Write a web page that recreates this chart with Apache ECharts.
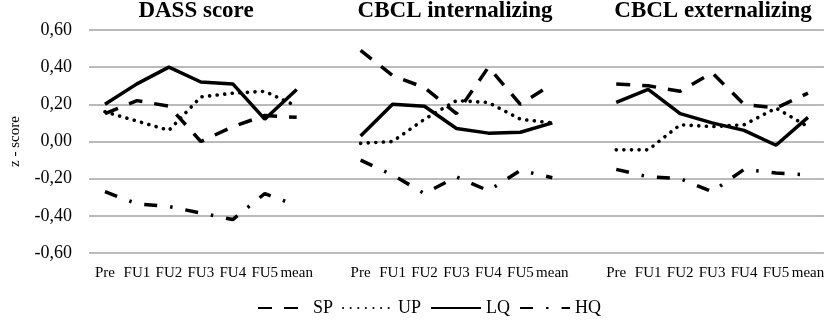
<!DOCTYPE html>
<html>
<head>
<meta charset="utf-8">
<script src="https://cdn.jsdelivr.net/npm/echarts@6/dist/echarts.min.js"></script>
<style>
  html, body { margin: 0; padding: 0; background: #fff; }
  #main { width: 827px; height: 323px; }
</style>
</head>
<body>
<div id="main"></div>
<script>
// time points of each panel
var timePoints = ['Pre', 'FU1', 'FU2', 'FU3', 'FU4', 'FU5', 'mean'];
var panelTitles = ['DASS score', 'CBCL internalizing', 'CBCL externalizing'];
var groupNames = ['SP', 'UP', 'LQ', 'HQ'];
var yTicks = [-0.6, -0.4, -0.2, 0, 0.2, 0.4, 0.6];

// DASS score
var spDass = [0.15, 0.22, 0.19, 0.00, 0.08, 0.14, 0.13];
var upDass = [0.16, 0.11, 0.06, 0.24, 0.26, 0.27, 0.19];
var lqDass = [0.20, 0.31, 0.40, 0.32, 0.31, 0.12, 0.28];
var hqDass = [-0.27, -0.335, -0.35, -0.385, -0.42, -0.28, -0.345];

// CBCL internalizing
var spInt = [0.49, 0.355, 0.29, 0.15, 0.40, 0.20, 0.31];
var upInt = [-0.01, 0.00, 0.12, 0.22, 0.21, 0.12, 0.10];
var lqInt = [0.03, 0.20, 0.19, 0.07, 0.045, 0.05, 0.10];
var hqInt = [-0.10, -0.18, -0.28, -0.19, -0.265, -0.155, -0.195];

// CBCL externalizing
var spExt = [0.31, 0.30, 0.27, 0.37, 0.20, 0.18, 0.26];
var upExt = [-0.045, -0.045, 0.09, 0.08, 0.09, 0.18, 0.08];
var lqExt = [0.21, 0.28, 0.15, 0.10, 0.06, -0.02, 0.13];
var hqExt = [-0.15, -0.19, -0.20, -0.27, -0.15, -0.17, -0.18];

// one axis, an empty slot between panels (like the excel sheet)
function joinPanels(a, b, c) {
  return a.concat([null], b, [null], c);
}
var categories = joinPanels(timePoints, timePoints, timePoints).map(function (v) { return v === null ? '' : v; });

var seriesData = {
  SP: joinPanels(spDass, spInt, spExt),
  UP: joinPanels(upDass, upInt, upExt),
  LQ: joinPanels(lqDass, lqInt, lqExt),
  HQ: joinPanels(hqDass, hqInt, hqExt)
};

var lineStyles = {
  SP: { type: [14, 12], width: 3.5, cap: 'butt' },
  UP: { type: [0.1, 7.5], width: 3.6, cap: 'round' },
  LQ: { type: 'solid', width: 3.5, cap: 'butt' },
  HQ: { type: [13, 13, 2.5, 13], width: 3.5, cap: 'butt' }
};

var serif = '"Liberation Serif", "Times New Roman", serif';
var titleX = [196, 455, 713];

var option = {
  animation: false,
  backgroundColor: '#fff',
  title: panelTitles.map(function (t, i) {
    return {
      text: t,
      left: titleX[i],
      top: 0,
      padding: 0,
      textAlign: 'center',
      textStyle: { fontFamily: serif, fontSize: 23, fontWeight: 'bold', color: '#000' }
    };
  }),
  legend: {
    data: groupNames,
    left: 252,
    bottom: 1,
    itemWidth: 50,
    itemHeight: 10,
    itemGap: 9,
    itemStyle: { opacity: 0 },
    textStyle: { fontFamily: serif, fontSize: 18, color: '#000' }
  },
  grid: { left: 83, right: 0, top: 30, bottom: 70 },
  xAxis: {
    type: 'category',
    data: categories,
    boundaryGap: true,
    axisLine: { show: false },
    axisTick: { show: false },
    axisLabel: { interval: 0, margin: 13, fontFamily: serif, fontSize: 15, color: '#000' }
  },
  yAxis: {
    type: 'value',
    min: yTicks[0],
    max: yTicks[yTicks.length - 1],
    interval: 0.2,
    name: 'z - score',
    nameLocation: 'middle',
    nameGap: 66,
    nameTextStyle: { fontFamily: serif, fontSize: 15, color: '#000' },
    axisLine: { show: false },
    axisTick: { show: false },
    axisLabel: {
      margin: 17,
      fontFamily: serif,
      fontSize: 18,
      color: '#000',
      formatter: function (v) { return v.toFixed(2).replace('.', ','); }
    },
    splitLine: { lineStyle: { color: '#a3a3a3', width: 1.5 } }
  },
  series: groupNames.map(function (g) {
    return {
      name: g,
      type: 'line',
      data: seriesData[g],
      connectNulls: false,
      symbol: 'none',
      color: '#000',
      lineStyle: Object.assign({ color: '#000' }, lineStyles[g])
    };
  })
};

echarts.init(document.getElementById('main')).setOption(option);
</script>
</body>
</html>
